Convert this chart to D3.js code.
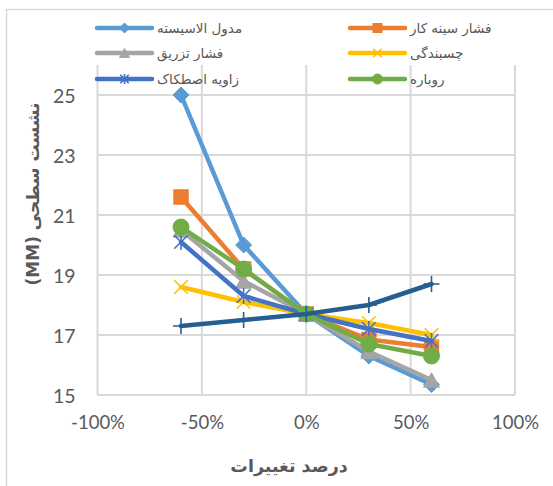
<!DOCTYPE html>
<html>
<head>
<meta charset="utf-8">
<script src="https://cdn.jsdelivr.net/npm/d3@7"></script>
<style>
  html, body { margin: 0; padding: 0; background: #fff; }
  svg { display: block; }
</style>
</head>
<body>
<svg id="chart" width="553" height="486"></svg>
<script>
// Percent change applied to each parameter
const changes = [-0.6, -0.3, 0, 0.3, 0.6];

// Surface settlement (mm) for each parameter
const modulus      = [25.0, 20.0, 17.7, 16.3, 15.35];
const facePressure = [21.6, 19.2, 17.7, 16.85, 16.6];
const groutPress   = [20.5, 18.8, 17.7, 16.45, 15.5];
const cohesion     = [18.6, 18.1, 17.7, 17.4, 17.0];
const frictionAng  = [20.1, 18.3, 17.7, 17.2, 16.8];
const overburden   = [20.6, 19.2, 17.7, 16.7, 16.3];
const unitWeight   = [17.3, 17.5, 17.7, 18.0, 18.7];

const seriesNames = ["مدول الاسیسته", "فشار سینه کار", "فشار تزریق", "چسبندگی", "زاویه اصطکاک", "روباره", "وزن مخصوص"];
const seriesColors = ["#5B9BD5", "#ED7D31", "#A5A5A5", "#FFC000", "#4472C4", "#70AD47", "#255E91"];
const seriesMarkers = ["diamond", "square", "triangle", "x", "star", "circle", "plus"];
const seriesValues = [modulus, facePressure, groutPress, cohesion, frictionAng, overburden, unitWeight];

const xTicks = [-1, -0.5, 0, 0.5, 1];
const yTicks = [15, 17, 19, 21, 23, 25];

const svg = d3.select("#chart");

// chart frame
svg.append("rect")
  .attr("x", 6.5).attr("y", 9.5).attr("width", 600).attr("height", 600)
  .attr("fill", "#fff").attr("stroke", "#D9D9D9").attr("stroke-width", 1.5);

const plot = { left: 97.5, right: 515, top: 65, bottom: 395 };

const x = d3.scaleLinear().domain([-1, 1]).range([plot.left, plot.right]);
const y = d3.scaleLinear().domain([15, 26]).range([plot.bottom, plot.top]);

// gridlines
const grid = svg.append("g");
grid.selectAll("line.v").data(xTicks).join("line")
  .attr("x1", d => x(d)).attr("x2", d => x(d))
  .attr("y1", plot.top).attr("y2", plot.bottom)
  .attr("stroke", "#D9D9D9").attr("stroke-width", 2);
grid.selectAll("line.h").data(yTicks).join("line")
  .attr("x1", plot.left).attr("x2", plot.right)
  .attr("y1", d => y(d)).attr("y2", d => y(d))
  .attr("stroke", "#D9D9D9").attr("stroke-width", 2);

// axes (labels only)
const tickFont = "Lato, 'Open Sans', sans-serif";
const xAxis = d3.axisBottom(x).tickValues(xTicks).tickFormat(d3.format(".0%")).tickSize(0).tickPadding(0);
const gx = svg.append("g").attr("transform", `translate(0,${plot.bottom + 21})`).call(xAxis);
gx.select(".domain").remove();
gx.selectAll("text").attr("font-family", tickFont).attr("font-size", 18.5)
  .attr("fill", "#595959").attr("dy", "0.71em")
  .text(d => (d < 0 ? "-" : "") + Math.abs(Math.round(d * 100)) + "%");

const yAxis = d3.axisLeft(y).tickValues(yTicks).tickSize(0).tickPadding(0);
const gy = svg.append("g").attr("transform", `translate(${plot.left - 22},0)`).call(yAxis);
gy.select(".domain").remove();
gy.selectAll("text").attr("font-family", tickFont).attr("font-size", 19.5)
  .attr("fill", "#595959").attr("dy", "0.36em");

// axis titles
svg.append("text")
  .attr("x", 289).attr("y", 472)
  .attr("text-anchor", "middle")
  .attr("font-family", "'DejaVu Sans', sans-serif").attr("font-weight", "bold")
  .attr("font-size", 17.5).attr("fill", "#595959")
  .text("درصد تغییرات");

svg.append("text")
  .attr("transform", "translate(39,194) rotate(-90)")
  .attr("text-anchor", "middle")
  .attr("direction", "rtl")
  .style("unicode-bidi", "embed")
  .attr("font-family", "'DejaVu Sans', sans-serif").attr("font-weight", "bold")
  .attr("font-size", 17).attr("fill", "#595959")
  .text("نشست سطحی (MM)");

// marker shapes
function drawMarker(g, type, cx, cy, s, color) {
  const h = s / 2;
  if (type === "diamond") {
    g.append("path").attr("d", `M${cx},${cy - h}L${cx + h},${cy}L${cx},${cy + h}L${cx - h},${cy}Z`)
      .attr("fill", color).attr("stroke", color).attr("stroke-width", 1);
  } else if (type === "square") {
    g.append("rect").attr("x", cx - h * 0.9).attr("y", cy - h * 0.9)
      .attr("width", s * 0.9).attr("height", s * 0.9)
      .attr("fill", color).attr("stroke", color).attr("stroke-width", 1);
  } else if (type === "triangle") {
    g.append("path").attr("d", `M${cx},${cy - h * 0.9}L${cx + h},${cy + h * 0.9}L${cx - h},${cy + h * 0.9}Z`)
      .attr("fill", color).attr("stroke", color).attr("stroke-width", 1);
  } else if (type === "circle") {
    g.append("circle").attr("cx", cx).attr("cy", cy).attr("r", h)
      .attr("fill", color).attr("stroke", color).attr("stroke-width", 1);
  } else if (type === "x" || type === "star" || type === "plus") {
    const k = h * 0.85;
    let d = "";
    if (type !== "plus") d += `M${cx - k},${cy - k}L${cx + k},${cy + k}M${cx - k},${cy + k}L${cx + k},${cy - k}`;
    if (type === "star") d += `M${cx},${cy - h}L${cx},${cy + h}`;
    if (type === "plus") d += `M${cx},${cy - h}L${cx},${cy + h}M${cx - h},${cy}L${cx + h},${cy}`;
    g.append("path").attr("d", d).attr("fill", "none")
      .attr("stroke", color).attr("stroke-width", 1.6);
  }
}

// series lines and markers
const line = d3.line().x((d, i) => x(changes[i])).y(d => y(d));
seriesValues.forEach((vals, si) => {
  const g = svg.append("g");
  g.append("path").datum(vals).attr("d", line)
    .attr("fill", "none").attr("stroke", seriesColors[si])
    .attr("stroke-width", 4.5).attr("stroke-linejoin", "round").attr("stroke-linecap", "round");
  vals.forEach((v, i) => drawMarker(g, seriesMarkers[si], x(changes[i]), y(v), 16, seriesColors[si]));
});

// legend (first six series)
const legendRows = [28, 53, 79];
const legendCols = [97, 350];
seriesNames.slice(0, 6).forEach((name, i) => {
  const row = Math.floor(i / 2), col = i % 2;
  const lx = legendCols[col], ly = legendRows[row];
  const g = svg.append("g");
  g.append("line").attr("x1", lx).attr("x2", lx + 55).attr("y1", ly).attr("y2", ly)
    .attr("stroke", seriesColors[i]).attr("stroke-width", 4.5).attr("stroke-linecap", "round");
  drawMarker(g, seriesMarkers[i], lx + 27.5, ly, 10, seriesColors[i]);
  g.append("text").attr("x", lx + 60).attr("y", ly).attr("dy", "0.35em")
    .attr("font-family", "'DejaVu Sans', sans-serif").attr("font-size", 13.5)
    .attr("fill", "#595959").text(name);
});
</script>
</body>
</html>
